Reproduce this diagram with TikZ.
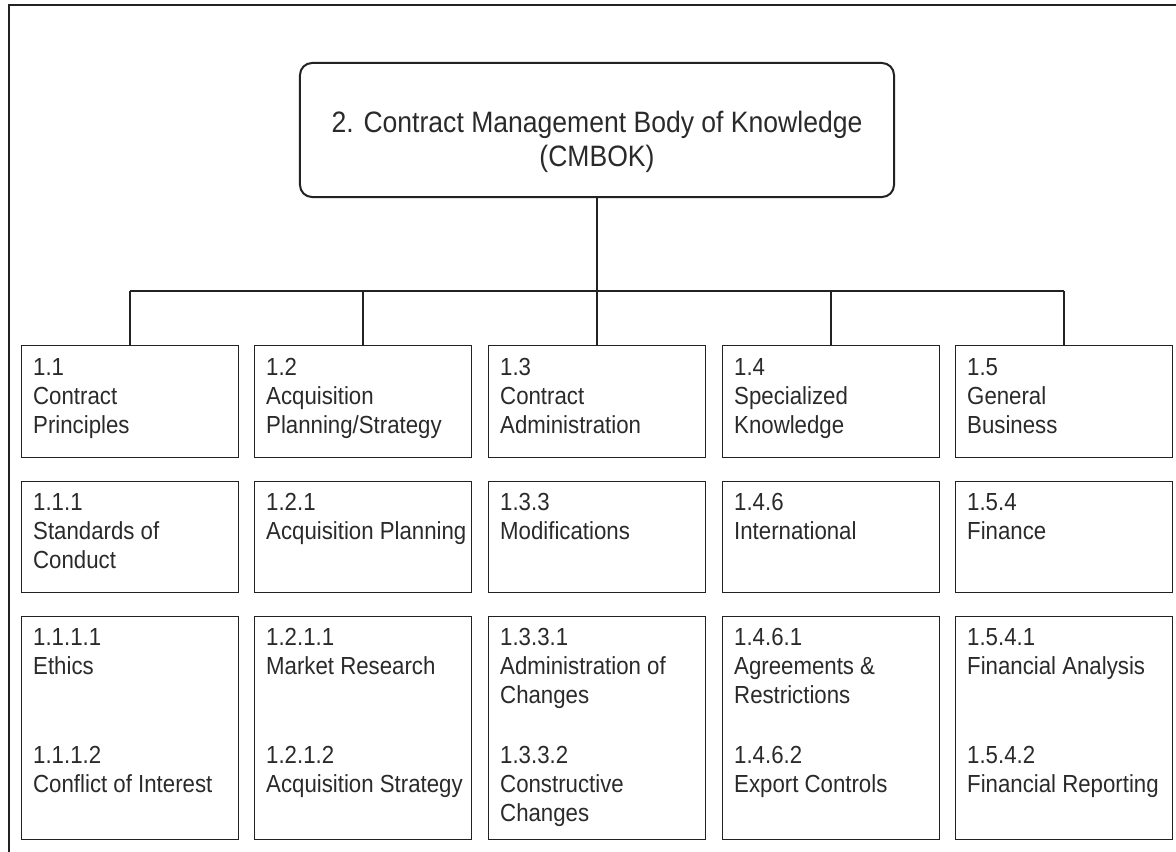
\documentclass[tikz,border=0pt]{standalone}
\usepackage{fontspec}
\setmainfont{Liberation Sans}[FakeStretch=0.9]
\usetikzlibrary{calc}
\definecolor{linec}{HTML}{222222}
\definecolor{textc}{HTML}{2A2A2A}
\begin{document}
\begin{tikzpicture}[x=1bp,y=-1bp,
  box/.style={draw=linec, line width=1.2bp, minimum width=217bp, inner sep=0, anchor=north west},
  r1/.style={box, minimum height=112bp},
  r2/.style={box, minimum height=111bp},
  r3/.style={box, minimum height=223bp},
  txt/.style={anchor=north west, inner sep=0, align=left, text=textc,
    font=\fontsize{24.7bp}{29bp}\selectfont},
  conn/.style={draw=linec, line width=1.8bp},
  rootbox/.style={draw=linec, line width=2bp, rounded corners=12bp, minimum width=594bp, minimum height=134bp, inner sep=0}
]
\useasboundingbox (0,0) rectangle (1176,852);
% outer frame
\draw[linec, line width=2.5bp] (1176,5) -- (9,5) -- (9,852);

% root
\node[rootbox] (root) at (597,130) {};
\node[anchor=north, inner sep=0, align=center, text=textc,
  font=\fontsize{29.5bp}{34bp}\selectfont] (rootlbl) at ($(root.north)+(0,46)$)
  {\rule{0pt}{24bp}2. Contract Management Body of Knowledge\\(CMBOK)};

% row 1
\node[r1] (b11) at (21,345) {};
\node[r1] (b12) at (254,345) {};
\node[r1] (b13) at (488,345) {};
\node[r1] (b14) at (722,345) {};
\node[r1] (b15) at (955,345) {};
% row 2
\node[r2] (b21) at (21,481) {};
\node[r2] (b22) at (254,481) {};
\node[r2] (b23) at (488,481) {};
\node[r2] (b24) at (722,481) {};
\node[r2] (b25) at (955,481) {};
% row 3
\node[r3] (b31) at (21,616) {};
\node[r3] (b32) at (254,616) {};
\node[r3] (b33) at (488,616) {};
\node[r3] (b34) at (722,616) {};
\node[r3] (b35) at (955,616) {};

% row 1 texts
\node[txt] (t11) at ($(b11.north west)+(12,10)$) {\rule{0pt}{20bp}1.1\\Contract\\Principles};
\node[txt] (t12) at ($(b12.north west)+(12,10)$) {\rule{0pt}{20bp}1.2\\Acquisition\\Planning/Strategy};
\node[txt] (t13) at ($(b13.north west)+(12,10)$) {\rule{0pt}{20bp}1.3\\Contract\\Administration};
\node[txt] (t14) at ($(b14.north west)+(12,10)$) {\rule{0pt}{20bp}1.4\\Specialized\\Knowledge};
\node[txt] (t15) at ($(b15.north west)+(12,10)$) {\rule{0pt}{20bp}1.5\\General\\Business};
% row 2 texts
\node[txt] (t21) at ($(b21.north west)+(12,9)$) {\rule{0pt}{20bp}1.1.1\\Standards of\\Conduct};
\node[txt] (t22) at ($(b22.north west)+(12,9)$) {\rule{0pt}{20bp}1.2.1\\Acquisition Planning};
\node[txt] (t23) at ($(b23.north west)+(12,9)$) {\rule{0pt}{20bp}1.3.3\\Modifications};
\node[txt] (t24) at ($(b24.north west)+(12,9)$) {\rule{0pt}{20bp}1.4.6\\International};
\node[txt] (t25) at ($(b25.north west)+(12,9)$) {\rule{0pt}{20bp}1.5.4\\Finance};
% row 3 texts, first group
\node[txt] (t31a) at ($(b31.north west)+(12,9)$) {\rule{0pt}{20bp}1.1.1.1\\Ethics};
\node[txt] (t32a) at ($(b32.north west)+(12,9)$) {\rule{0pt}{20bp}1.2.1.1\\Market Research};
\node[txt] (t33a) at ($(b33.north west)+(12,9)$) {\rule{0pt}{20bp}1.3.3.1\\Administration of\\Changes};
\node[txt] (t34a) at ($(b34.north west)+(12,9)$) {\rule{0pt}{20bp}1.4.6.1\\Agreements \&\\Restrictions};
\node[txt] (t35a) at ($(b35.north west)+(12,9)$) {\rule{0pt}{20bp}1.5.4.1\\Financial Analysis};
% row 3 texts, second group
\node[txt] (t31b) at ($(b31.north west)+(12,127)$) {\rule{0pt}{20bp}1.1.1.2\\Conflict of Interest};
\node[txt] (t32b) at ($(b32.north west)+(12,127)$) {\rule{0pt}{20bp}1.2.1.2\\Acquisition Strategy};
\node[txt] (t33b) at ($(b33.north west)+(12,127)$) {\rule{0pt}{20bp}1.3.3.2\\Constructive\\Changes};
\node[txt] (t34b) at ($(b34.north west)+(12,127)$) {\rule{0pt}{20bp}1.4.6.2\\Export Controls};
\node[txt] (t35b) at ($(b35.north west)+(12,127)$) {\rule{0pt}{20bp}1.5.4.2\\Financial Reporting};

% connectors
\coordinate (bus) at (597,291);
\draw[conn] (root.south) -- (bus);
\draw[conn] (bus -| b11.north) -- (bus -| b15.north);
\draw[conn] (bus -| b11.north) -- (b11.north);
\draw[conn] (bus -| b12.north) -- (b12.north);
\draw[conn] (bus -| b13.north) -- (b13.north);
\draw[conn] (bus -| b14.north) -- (b14.north);
\draw[conn] (bus -| b15.north) -- (b15.north);
\end{tikzpicture}
\end{document}
